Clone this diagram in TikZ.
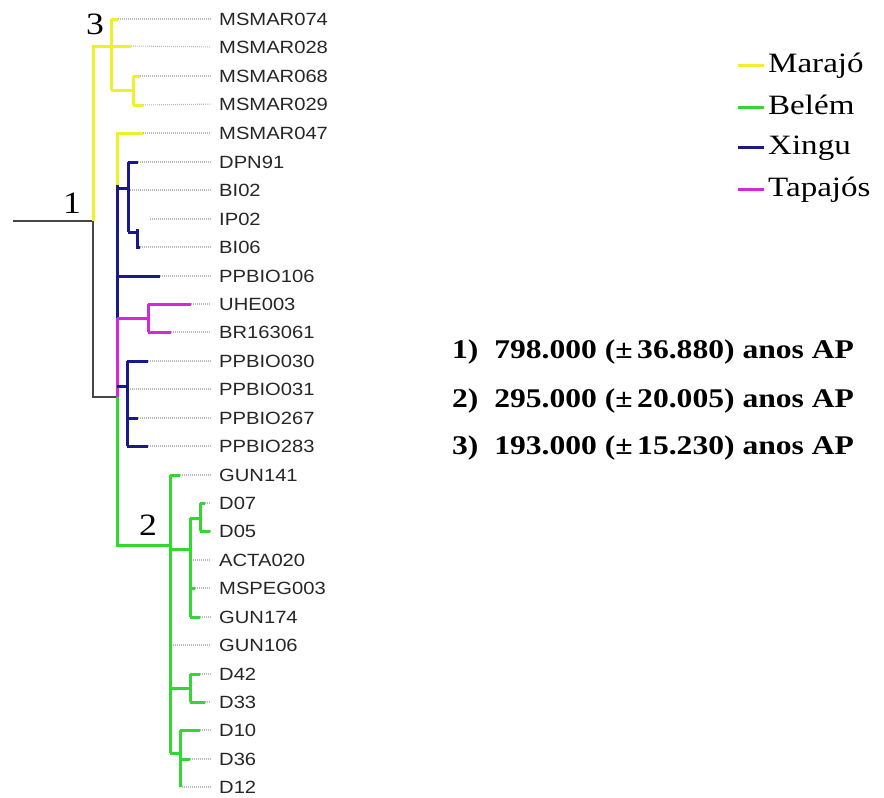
\documentclass[tikz,border=0pt]{standalone}
\usepackage{fontspec}
\newfontfamily\labfont[FakeStretch=1.14]{Liberation Sans}
\newfontfamily\serfont[FakeStretch=1.15]{Liberation Serif}
\newfontfamily\legfont[FakeStretch=1.18]{Liberation Serif}
\newfontfamily\resfont[FakeStretch=1.17]{Liberation Serif}
\definecolor{cyel}{RGB}{240,240,40}
\definecolor{cgrn}{RGB}{50,215,50}
\definecolor{cblu}{RGB}{25,25,140}
\definecolor{cmag}{RGB}{215,40,215}
\definecolor{cblk}{RGB}{70,70,70}
\tikzset{
  br/.style={line width=3pt},
  yel/.style={br,draw=cyel},
  grn/.style={br,draw=cgrn},
  blu/.style={br,draw=cblu},
  mag/.style={br,draw=cmag},
  blk/.style={line width=2.2pt,draw=cblk},
  dotl/.style={draw=gray!55,line width=1.1pt,dash pattern=on 0.9pt off 1.1pt,shorten >=8pt},
  lab/.style={anchor=west,inner sep=0pt,font=\labfont\fontsize{17.7}{20}\selectfont,text=black!85},
  num/.style={inner sep=0pt,font=\serfont\fontsize{31}{34}\selectfont},
  leg/.style={anchor=base west,inner sep=0pt,font=\legfont\fontsize{28}{32}\selectfont},
  legline/.style={line width=3pt},
  res/.style={anchor=west,inner sep=0pt,font=\resfont\bfseries\fontsize{27}{30}\selectfont}
}
\begin{document}
\begin{tikzpicture}[x=1pt,y=-1pt]
\useasboundingbox (0,0) rectangle (884,798);
% labels
\foreach \n/\y in {MSMAR074/19,MSMAR028/47,MSMAR068/76,MSMAR029/104,MSMAR047/133,DPN91/162,BI02/190,IP02/219,BI06/247,PPBIO106/276,UHE003/304,BR163061/332,PPBIO030/361,PPBIO031/389,PPBIO267/418,PPBIO283/446,GUN141/475,D07/503,D05/531,ACTA020/560,MSPEG003/588,GUN174/617,GUN106/645,D42/674,D33/702,D10/730,D36/759,D12/787}
  \node[lab] (\n) at (219,\y) {\n};
% internal coordinates
\coordinate (r0) at (13,221);
\coordinate (n1) at (93,221);
\coordinate (n1t) at (93,46);
\coordinate (n1b) at (93,397);
\coordinate (n3) at (111,46);
\coordinate (n3t) at (111,19);
\coordinate (n3b) at (111,90);
\coordinate (m68) at (133,90);
\coordinate (m68t) at (133,76);
\coordinate (m68b) at (133,105);
\coordinate (n4) at (117,397);
\coordinate (n4a) at (117,133);
\coordinate (n4y) at (117,185);
\coordinate (n4m) at (117,318);
\coordinate (n4g) at (117,545);
\coordinate (xa) at (117,188);
\coordinate (xa1) at (128,188);
\coordinate (xat) at (128,162);
\coordinate (xab) at (128,232);
\coordinate (xb) at (137,232);
\coordinate (xbt) at (137,229);
\coordinate (xbb) at (137,247);
\coordinate (p106) at (117,276);
\coordinate (ta) at (148,318);
\coordinate (tat) at (148,304);
\coordinate (tab) at (148,332);
\coordinate (xc) at (117,386);
\coordinate (xc1) at (127,386);
\coordinate (xct) at (127,361);
\coordinate (xcb) at (127,446);
\coordinate (xc267) at (127,418);
\coordinate (n2) at (170,545);
\coordinate (n2t) at (170,475);
\coordinate (n2b) at (170,753);
\coordinate (ga) at (170,549);
\coordinate (ga1) at (190,549);
\coordinate (gat) at (190,518);
\coordinate (gab) at (190,617);
\coordinate (gam) at (190,588);
\coordinate (gb) at (200,518);
\coordinate (gbt) at (200,503);
\coordinate (gbb) at (200,531);
\coordinate (gc) at (170,688);
\coordinate (gc1) at (190,688);
\coordinate (gct) at (190,674);
\coordinate (gcb) at (190,702);
\coordinate (gd1) at (180,753);
\coordinate (gdt) at (180,730);
\coordinate (gdb) at (180,787);
\coordinate (gdm) at (180,759);
% tip ends
\coordinate (t074) at (118,19);
\coordinate (t028) at (131,46);
\coordinate (t068) at (140,76);
\coordinate (t029) at (143,105);
\coordinate (t047) at (143,133);
\coordinate (tdpn) at (138,162);
\coordinate (tbi02) at (128,190);
\coordinate (tip02) at (150,219);
\coordinate (tbi06) at (140,247);
\coordinate (t106) at (160,276);
\coordinate (tuhe) at (191,304);
\coordinate (tbr) at (171,332);
\coordinate (t030) at (148,361);
\coordinate (t031) at (130,389);
\coordinate (t267) at (138,418);
\coordinate (t283) at (148,446);
\coordinate (tg141) at (180,475);
\coordinate (td07) at (205,503);
\coordinate (td05) at (210,531);
\coordinate (tacta) at (193,560);
\coordinate (tmspeg) at (195,588);
\coordinate (tg174) at (200,617);
\coordinate (tg106) at (173,645);
\coordinate (td42) at (200,674);
\coordinate (td33) at (205,702);
\coordinate (td10) at (200,730);
\coordinate (td36) at (190,759);
\coordinate (td12) at (182,787);
% dotted leaders
\foreach \t/\n in {t074/MSMAR074,t028/MSMAR028,t068/MSMAR068,t029/MSMAR029,t047/MSMAR047,tdpn/DPN91,tbi02/BI02,tip02/IP02,tbi06/BI06,t106/PPBIO106,tuhe/UHE003,tbr/BR163061,t030/PPBIO030,t031/PPBIO031,t267/PPBIO267,t283/PPBIO283,tg141/GUN141,td07/D07,td05/D05,tacta/ACTA020,tmspeg/MSPEG003,tg174/GUN174,tg106/GUN106,td42/D42,td33/D33,td10/D10,td36/D36,td12/D12}
  \draw[dotl] (\t) -- (\n.west);
% black
\draw[blk] (r0) -- (n1) -- (n1b) -- (n4);
% yellow
\draw[yel] (n1) -- (n1t) -- (n3);
\draw[yel] (n3t) -- (n3b);
\draw[yel] (n3t) -- (t074);
\draw[yel] (n1t) -- (t028);
\draw[yel] (n3b) -- (m68);
\draw[yel] (m68t) -- (m68b);
\draw[yel] (m68t) -- (t068);
\draw[yel] (m68b) -- (t029);
\draw[yel] (n4y) -- (n4a) -- (t047);
% blue upper
\draw[blu] (n4y) -- (n4m);
\draw[blu] (xa) -- (xa1);
\draw[blu] (xat) -- (xab);
\draw[blu] (xat) -- (tdpn);
\draw[blu] (xab) -- (xb);
\draw[blu] (xbt) -- (xbb) -- (tbi06);
\draw[blu] (p106) -- (t106);
% magenta
\draw[mag] (n4m) -- (n4);
\draw[mag] (n4m) -- (ta);
\draw[mag] (tat) -- (tab);
\draw[mag] (tat) -- (tuhe);
\draw[mag] (tab) -- (tbr);
% blue lower
\draw[blu] (xc) -- (xc1);
\draw[blu] (xct) -- (xcb);
\draw[blu] (xct) -- (t030);
\draw[blu] (xc267) -- (t267);
\draw[blu] (xcb) -- (t283);
% green
\draw[grn] (n4) -- (n4g) -- (n2);
\draw[grn] (n2t) -- (n2b);
\draw[grn] (n2t) -- (tg141);
\draw[grn] (ga) -- (ga1);
\draw[grn] (gat) -- (gab);
\draw[grn] (gat) -- (gb);
\draw[grn] (gbt) -- (gbb);
\draw[grn] (gbt) -- (td07);
\draw[grn] (gbb) -- (td05);
\draw[grn] (gam) -- (tmspeg);
\draw[grn] (gab) -- (tg174);
\draw[grn] (gc) -- (gc1);
\draw[grn] (gct) -- (gcb);
\draw[grn] (gct) -- (td42);
\draw[grn] (gcb) -- (td33);
\draw[grn] (n2b) -- (gd1);
\draw[grn] (gdt) -- (gdb);
\draw[grn] (gdt) -- (td10);
\draw[grn] (gdm) -- (td36);
% node numbers
\node[num] (lab1) at (72,203) {1};
\node[num] (lab3) at (95,24) {3};
\node[num] (lab2) at (148,525) {2};
% legend
\foreach \c/\t/\y/\nm in {cyel/Marajó/65/lm,cgrn/Belém/107/lb,cblu/Xingu/147/lx,cmag/Tapajós/189/lt}{
  \coordinate (\nm a) at (738,\y);
  \coordinate (\nm b) at (764,\y);
  \draw[legline,draw=\c] (\nm a) -- (\nm b);
  \node[leg] (\nm) at (768,\y+7) {\t};
}
% results
\node[res] (r1) at (452,352) {1)\ \ 798.000 (±\,36.880) anos AP};
\node[res] (r2) at (452,401) {2)\ \ 295.000 (±\,20.005) anos AP};
\node[res] (r3) at (452,448) {3)\ \ 193.000 (±\,15.230) anos AP};
\end{tikzpicture}
\end{document}
